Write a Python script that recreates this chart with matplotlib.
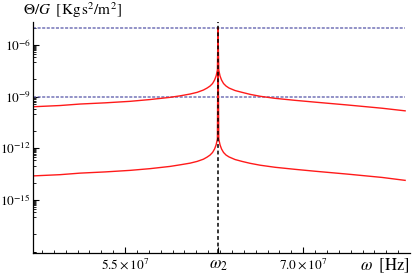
import numpy as np
import matplotlib
matplotlib.use("Agg")
import matplotlib.pyplot as plt
from matplotlib.ticker import FixedLocator, NullFormatter

plt.rcParams['font.family'] = ['Liberation Serif', 'DejaVu Serif']
plt.rcParams['mathtext.fontset'] = 'stix'

# resonance frequency (Hz)
omega2 = 6.2832e7

w = [4.7275e7, 4.952e7, 5.121e7, 5.332e7, 5.542e7, 5.711e7, 5.879e7, 5.963e7, 6.048e7,
     6.107e7, 6.160e7, 6.191e7, 6.216e7, 6.237e7, 6.254e7, 6.267e7, 6.278e7,
     6.2832e7,
     6.2894e7, 6.3003e7, 6.3130e7, 6.3298e7, 6.3509e7, 6.3762e7, 6.4267e7, 6.4857e7,
     6.5531e7, 6.6373e7, 6.7637e7, 6.9322e7, 7.1007e7, 7.3787e7, 7.6651e7, 7.8589e7]

# upper curve
g_up = [2.61e-10, 3.07e-10, 3.75e-10, 4.40e-10, 5.38e-10, 6.84e-10, 9.18e-10, 1.12e-9, 1.43e-9,
        1.79e-9, 2.44e-9, 3.18e-9, 4.16e-9, 5.81e-9, 9.27e-9, 1.58e-8, 3.53e-8,
        1e-5,
        3.53e-8, 1.58e-8, 9.27e-9, 5.81e-9, 4.16e-9, 3.18e-9, 2.28e-9, 1.79e-9,
        1.37e-9, 1.06e-9, 8.03e-10, 6.15e-10, 4.83e-10, 3.28e-10, 2.14e-10, 1.51e-10]

# lower curve
g_lo = [2.51e-14, 2.95e-14, 3.63e-14, 4.27e-14, 5.25e-14, 6.61e-14, 8.91e-14, 1.10e-13, 1.38e-13,
        1.74e-13, 2.34e-13, 3.09e-13, 4.07e-13, 5.75e-13, 9.12e-13, 1.58e-12, 3.55e-12,
        1e-5,
        3.55e-12, 1.58e-12, 9.12e-13, 5.75e-13, 4.07e-13, 3.16e-13, 2.24e-13, 1.74e-13,
        1.35e-13, 1.05e-13, 7.94e-14, 6.03e-14, 4.68e-14, 3.16e-14, 2.04e-14, 1.38e-14]

# horizontal reference levels
levels = [1e-5, 1e-9]

xticks = [5.5e7, omega2, 7.0e7]
xticklabels = [r'$5.5\times10^{7}$', r'$\omega_2$', r'$7.0\times10^{7}$']
yexp = [-6, -9, -12, -15]

fig = plt.figure(figsize=(4.15, 2.8), dpi=100)
ax = fig.add_axes([33/415, 27/280, 377/415, 231/280])

ax.set_yscale('log')
ax.set_xlim(4.725e7, 7.90e7)
ax.set_ylim(10**-18.08, 10**-4.66)

for lv in levels:
    ax.hlines(lv, ax.get_xlim()[0], w[-1], colors='#5c5cab', linestyles=(0, (2.0, 1.0)), lw=1.1, alpha=0.85)
ax.plot(w, g_up, color='#ff1a1a', lw=1.0)
ax.plot(w, g_lo, color='#ff1a1a', lw=1.0)
ax.axvline(omega2, color='black', ls=(0, (2.5, 1.8)), lw=1.1)

for s in ['top', 'right']:
    ax.spines[s].set_visible(False)
for s in ['left', 'bottom']:
    ax.spines[s].set_linewidth(0.9)

ax.set_xticks(xticks)
ax.set_xticklabels(xticklabels)
for lab, fs in zip(ax.get_xticklabels(), [9.5, 12, 9.5]):
    lab.set_fontsize(fs)
ax.xaxis.set_minor_locator(FixedLocator(np.arange(4.8e7, 7.9e7, 1e6)))

ax.yaxis.set_major_locator(FixedLocator([10.0**e for e in yexp]))
ax.set_yticklabels([r'$10^{%d}$' % e for e in yexp], fontsize=9.5)
mins = []
for e in yexp + [-18]:
    mins += [k * 10.0**(e - 1) for k in range(2, 10)]
mins += [10.0**e for e in range(-18, -4)]
ax.yaxis.set_minor_locator(FixedLocator(mins))
ax.yaxis.set_minor_formatter(NullFormatter())

ax.tick_params(which='major', direction='in', length=4, width=0.8, pad=3)
ax.tick_params(which='minor', direction='in', length=2, width=0.6)
ax.tick_params(axis='y', pad=1.5)

fig.text(23/415, 1 - 10/280, r'$\Theta/G\ \;[\mathrm{Kg\,s^2/m^2}]$', fontsize=11, va='center', ha='left')
fig.text(410/415, 1 - 266/280, r'$\omega\ \;[\mathrm{Hz}]$', fontsize=12, va='center', ha='right')

fig.savefig('out.png', dpi=100)
